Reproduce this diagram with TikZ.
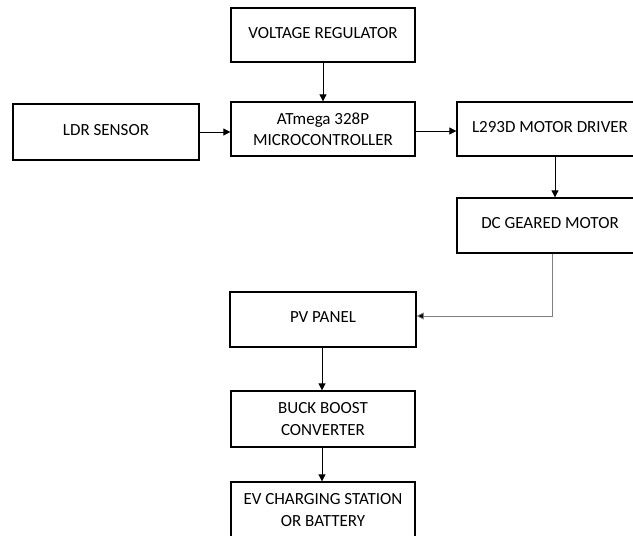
\documentclass[tikz,border=0pt]{standalone}
\usepackage{fontspec}
\setmainfont{Carlito}
\usetikzlibrary{arrows.meta}
\begin{document}
\begin{tikzpicture}[x=1pt,y=-1pt,
  box/.style={draw=black,line width=1.3pt,minimum width=184pt,minimum height=54pt,inner sep=0pt,align=center,
    font=\fontsize{17}{21.5}\selectfont},
  conn/.style={line width=0.8pt,-{Triangle[length=7pt,width=7pt]}}]
\fill[white] (0,0) rectangle (633,536);
\useasboundingbox (0,0) rectangle (633,536);
\clip (0,0) rectangle (633,536);
\node[box] (volt) at (323,35) {\raisebox{5pt}{VOLTAGE REGULATOR}};
\node[box] (atm) at (323,129) {ATmega 328P\\MICROCONTROLLER};
\node[box,minimum width=186pt,minimum height=56pt] (ldr) at (106,132) {\raisebox{5pt}{LDR SENSOR}};
\node[box,minimum width=186pt] (drv) at (550,129) {\raisebox{5pt}{L293D MOTOR DRIVER}};
\node[box,minimum width=186pt,minimum height=55pt] (dc) at (550,225.5) {\raisebox{5pt}{DC GEARED MOTOR}};
\node[box,minimum width=186pt,minimum height=55pt] (pv) at (323,319.5) {\raisebox{5pt}{PV PANEL}};
\node[box,minimum height=56pt] (buck) at (323,419) {BUCK BOOST\\CONVERTER};
\node[box,minimum height=56pt,text depth=0pt] (ev) at (323,510) {EV CHARGING STATION\\OR BATTERY};
\coordinate (bend) at (552,316);
\draw[conn] (volt.south) -- (atm.north);
\draw[conn] (ldr.east) -- (ldr.east -| atm.west);
\draw[conn] ([yshift=-2pt]atm.east) -- ([yshift=-2pt]drv.west);
\draw[conn] ([xshift=5pt]drv.south) -- ([xshift=5pt]dc.north);
\draw[conn,draw=black!50,-{Triangle[length=7pt,width=7pt,fill=black]}] (dc.south -| bend) -- (bend) -- (bend -| pv.east);
\draw[conn] ([xshift=-1pt]pv.south) -- ([xshift=-1pt]buck.north);
\draw[conn] ([xshift=-1pt]buck.south) -- ([xshift=-1pt]ev.north);
\end{tikzpicture}
\end{document}
